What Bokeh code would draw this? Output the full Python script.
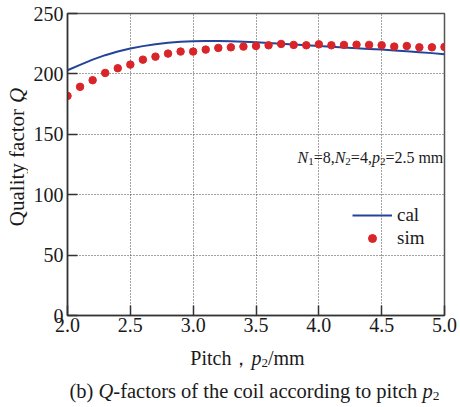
import math
from bokeh.plotting import figure
from bokeh.layouts import column, row
from bokeh.models import Label, Legend, LegendItem, Range1d, FixedTicker
from bokeh.embed import file_html
from bokeh.resources import INLINE

# ---- data ----
pitch = [2.0, 2.1, 2.2, 2.3, 2.4, 2.5, 2.6, 2.7, 2.8, 2.9, 3.0,
         3.1, 3.2, 3.3, 3.4, 3.5, 3.6, 3.7, 3.8, 3.9, 4.0,
         4.1, 4.2, 4.3, 4.4, 4.5, 4.6, 4.7, 4.8, 4.9, 5.0]
q_cal = [203.0, 207.5, 211.8, 215.5, 218.5, 221.0, 223.0, 224.6, 225.8, 226.6, 227.0,
         227.2, 227.2, 227.0, 226.6, 226.1, 225.6, 225.0, 224.4, 223.8, 223.1,
         222.5, 221.9, 221.3, 220.7, 220.1, 219.4, 218.7, 218.0, 217.2, 216.3]
q_sim = [181.8, 189.3, 194.8, 200.8, 204.7, 207.7, 211.8, 214.3, 216.8, 218.5, 218.5,
         220.1, 221.5, 222.0, 222.6, 223.1, 223.7, 224.8, 224.0, 223.7, 224.5,
         223.7, 224.0, 224.2, 224.0, 223.7, 222.6, 223.1, 222.0, 222.0, 222.3]
x_ticks = [2.0, 2.5, 3.0, 3.5, 4.0, 4.5, 5.0]
y_ticks = [0, 50, 100, 150, 200, 250]
series_names = ["cal", "sim"]

# ---- layout (page pixels) ----
W, H = 460, 407
YW = 28            # width of the strip holding the y title
MH = 339           # height of the main figure
L, R, T, B = 67, 444, 13, 315   # frame edges on the page
XMIN, XMAX, YMIN, YMAX = 2.0, 5.0, 0.0, 250.0
FONT = "Liberation Serif"
TXT = "#1a1a1a"

p = figure(width=W - YW, height=MH, output_backend="svg", toolbar_location=None,
           x_range=Range1d(XMIN, XMAX), y_range=Range1d(YMIN, YMAX),
           min_border_left=L - YW, min_border_right=W - R,
           min_border_top=T, min_border_bottom=MH - B)
p.background_fill_color = "white"
p.border_fill_color = "white"
p.outline_line_color = "#555555"
p.outline_line_width = 1.5

for ax in (p.xaxis[0], p.yaxis[0]):
    ax.major_tick_in = 10
    ax.major_tick_out = 0
    ax.minor_tick_in = 0
    ax.minor_tick_out = 0
    ax.axis_line_color = "#333333"
    ax.axis_line_width = 1.5
    ax.major_tick_line_color = "#333333"
    ax.major_tick_line_width = 1.5
    ax.major_label_text_font = FONT
    ax.major_label_text_font_size = "20px"
    ax.major_label_text_color = TXT
p.xaxis[0].ticker = FixedTicker(ticks=x_ticks)
p.yaxis[0].ticker = FixedTicker(ticks=y_ticks)
p.xaxis[0].major_label_standoff = 2
p.yaxis[0].major_label_standoff = 4
p.xaxis[0].major_label_overrides = {t: f"{t:.1f}" for t in x_ticks}

for g in (p.xgrid[0], p.ygrid[0]):
    g.grid_line_color = "#444444"
    g.grid_line_dash = "1 2"
    g.grid_line_width = 1

line_r = p.line(pitch, q_cal, line_color="#23449a", line_width=2)
dots_r = p.scatter(pitch, q_sim, size=7.5, fill_color="#d9252a", line_color="#d9252a")

legend = Legend(items=[LegendItem(label=series_names[0], renderers=[line_r]),
                       LegendItem(label=series_names[1], renderers=[dots_r])],
                location=(285, 66), glyph_width=40, glyph_height=20,
                label_standoff=5, spacing=1, padding=0, margin=0,
                label_text_font=FONT, label_text_font_size="19px",
                label_text_color=TXT, background_fill_alpha=0,
                border_line_alpha=0)
p.add_layout(legend, "center")


def blank(w, h, x0, y0):
    """A figure whose data coordinates equal page pixels (y downwards)."""
    f = figure(width=w, height=h, output_backend="svg", toolbar_location=None,
               x_range=Range1d(x0, x0 + w), y_range=Range1d(y0 + h, y0),
               x_axis_type=None, y_axis_type=None,
               min_border_left=0, min_border_right=0,
               min_border_top=0, min_border_bottom=0)
    f.grid.visible = False
    f.outline_line_color = None
    f.background_fill_color = "white"
    f.border_fill_color = "white"
    return f


yfig = blank(YW, MH, 0, 0)
bfig = blank(W, H - MH, 0, MH)

# ---- rich text helpers ----
REG = {' ': 250, '(': 333, ')': 333, ',': 250, '-': 333, '.': 250, '/': 278,
       '=': 564, 'N': 722, 'P': 556, 'Q': 722, 'a': 444, 'b': 500, 'c': 444,
       'd': 500, 'e': 444, 'f': 333, 'g': 500, 'h': 500, 'i': 278, 'l': 278,
       'm': 778, 'n': 500, 'o': 500, 'p': 500, 'r': 333, 's': 389, 't': 278,
       'u': 500, 'y': 500, '，': 1000}
ITA = {'N': 667, 'p': 500, 'Q': 722}


def width(text, italic, size):
    tab = ITA if italic else REG
    return sum(tab.get(ch, REG.get(ch, 500)) for ch in text) * size / 1000.0


def main_x(sx):
    return XMIN + (sx - L) * (XMAX - XMIN) / (R - L)


def main_y(sy):
    return YMIN + (B - sy) * (YMAX - YMIN) / (B - T)


def ident(v):
    return v


def rich(fig, pieces, sx, sy, align="left", vertical=False, fx=ident, fy=ident):
    """pieces: (text, italic, size, shift_px); positions in page pixels."""
    total = sum(width(t, it, s) for t, it, s, _ in pieces)
    if vertical:
        cur = sy + total / 2 if align == "center" else sy
    else:
        cur = sx - total / 2 if align == "center" else sx
    for t, it, s, sh in pieces:
        if vertical:
            lab = Label(x=fx(sx + sh), y=fy(cur), text=t, angle=math.pi / 2)
        else:
            lab = Label(x=fx(cur), y=fy(sy + sh), text=t)
        lab.text_font = FONT
        lab.text_font_size = f"{s}px"
        lab.text_font_style = "italic" if it else "normal"
        lab.text_color = TXT
        lab.text_align = "left"
        lab.text_baseline = "alphabetic"
        fig.add_layout(lab)
        w = width(t, it, s)
        cur = cur - w if vertical else cur + w


# annotation inside the frame
A, As = 16, 11
rich(p, [("N", True, A, 0), ("1", False, As, 4), ("=8,", False, A, 0),
         ("N", True, A, 0), ("2", False, As, 4), ("=4,", False, A, 0),
         ("p", True, A, 0), ("2", False, As, 4), ("=2.5 mm", False, A, 0)],
     297, 157, fx=main_x, fy=main_y)

# x axis title
rich(bfig, [("Pitch，", False, 20, 0), ("p", True, 20, 0), ("2", False, 13, 5),
            ("/mm", False, 20, 0)], 247, 357, align="center")

# y axis title
rich(yfig, [("Quality factor，", False, 21, 0), ("Q", True, 21, 0)],
     16, 162, align="center", vertical=True)

# caption
rich(bfig, [("(b) ", False, 20.5, 0), ("Q", True, 20.5, 0),
            ("-factors of the coil according to pitch ", False, 20.5, 0),
            ("p", True, 20.5, 0), ("2", False, 13.5, 5)], 254, 390, align="center")

layout = column(row(yfig, p, spacing=0), bfig, spacing=0)
open("out.html", "w").write(file_html(layout, INLINE))
